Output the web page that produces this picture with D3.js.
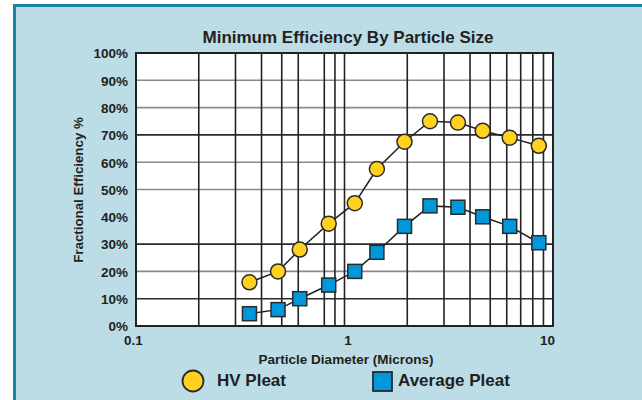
<!DOCTYPE html>
<html>
<head>
<meta charset="utf-8">
<script src="https://cdn.jsdelivr.net/npm/d3@7"></script>
<style>
  body { margin: 0; background: #fff; }
  svg text { font-family: "Liberation Sans", Arial, sans-serif; font-weight: bold; fill: #231f20; }
</style>
</head>
<body>
<script>
// particle diameters (microns) and efficiencies (%)
var sizes = [0.35, 0.48, 0.61, 0.84, 1.12, 1.43, 1.94, 2.57, 3.5, 4.6, 6.2, 8.55];
var hvPleat = [16, 20, 28, 37.5, 45, 57.5, 67.5, 75, 74.5, 71.5, 69, 66];
var avgPleat = [4.5, 6, 10, 15, 20, 27, 36.5, 44, 43.5, 40, 36.5, 30.5];

var xTicks = [0.1, 1, 10];
var yTicks = [0, 10, 20, 30, 40, 50, 60, 70, 80, 90, 100];
var xGrid = [0.2, 0.3, 0.4, 0.5, 0.6, 0.8, 0.9, 1, 2, 3, 4, 5, 6, 7, 8, 9];
var yGrid = [10, 20, 30, 50, 60, 70, 80, 90];
var yGridDark = [10, 30, 70];

var width = 642, height = 400;
var margin = {top: 53, right: 89, bottom: 74, left: 136};

var svg = d3.select("body")
  .append("svg")
    .attr("width", width)
    .attr("height", height);

// panel background with teal border
svg.append("rect")
  .attr("x", 14.5)
  .attr("y", 5.5)
  .attr("width", 700)
  .attr("height", 500)
  .style("fill", "#bcdce6")
  .style("stroke", "#1a82a3")
  .style("stroke-width", 3);

var x = d3.scaleLog()
  .domain([0.1, 10])
  .range([margin.left, width - margin.right]);

var y = d3.scaleLinear()
  .domain([0, 100])
  .range([height - margin.bottom, margin.top]);

// plot area
svg.append("rect")
  .attr("x", x(0.1))
  .attr("y", y(100))
  .attr("width", x(10) - x(0.1))
  .attr("height", y(0) - y(100))
  .style("fill", "#fff");

// horizontal grid
svg.append("g").selectAll("line")
  .data(yGrid)
  .enter()
  .append("line")
    .attr("x1", x(0.1))
    .attr("x2", x(10))
    .attr("y1", d => y(d))
    .attr("y2", d => y(d))
    .style("stroke", d => yGridDark.includes(d) ? "#2a2a2a" : "#8a8a8a")
    .style("stroke-width", 1.6);

// vertical grid
svg.append("g").selectAll("line")
  .data(xGrid)
  .enter()
  .append("line")
    .attr("x1", d => x(d))
    .attr("x2", d => x(d))
    .attr("y1", y(0))
    .attr("y2", y(100))
    .style("stroke", "#222")
    .style("stroke-width", 1.6);

// plot border
svg.append("rect")
  .attr("x", x(0.1))
  .attr("y", y(100))
  .attr("width", x(10) - x(0.1))
  .attr("height", y(0) - y(100))
  .style("fill", "none")
  .style("stroke", "#222")
  .style("stroke-width", 2);

// axes (labels only)
var yAxis = svg.append("g")
  .attr("transform", "translate(" + (x(0.1) - 5) + ",0)")
  .call(d3.axisLeft(y).tickValues(yTicks).tickSize(0).tickFormat(d => d + "%"));
yAxis.select(".domain").remove();
yAxis.selectAll("text")
  .style("font-size", "13.5px")
  .attr("dy", "0.36em");

var xAxis = svg.append("g")
  .attr("transform", "translate(0," + (y(0) + 6) + ")")
  .call(d3.axisBottom(x).tickValues(xTicks).tickSize(0).tickFormat(d3.format("")));
xAxis.select(".domain").remove();
xAxis.selectAll("text")
  .style("font-size", "13.5px")
  .attr("dx", d => d === 0.1 ? -3 : d === 10 ? -6 : 3);

// title + axis titles
svg.append("text")
  .attr("x", 348)
  .attr("y", 43)
  .attr("text-anchor", "middle")
  .style("font-size", "17px")
  .text("Minimum Efficiency By Particle Size");

svg.append("text")
  .attr("x", 346)
  .attr("y", 364)
  .attr("text-anchor", "middle")
  .style("font-size", "13.5px")
  .text("Particle Diameter (Microns)");

svg.append("text")
  .attr("transform", "translate(83,190) rotate(-90)")
  .attr("text-anchor", "middle")
  .style("font-size", "13.3px")
  .text("Fractional Efficiency %");

// series lines
var line = d3.line()
  .x((d, i) => x(sizes[i]))
  .y(d => y(d));

svg.append("path")
  .datum(hvPleat)
  .attr("d", line)
  .style("fill", "none")
  .style("stroke", "#222")
  .style("stroke-width", 1.5);

svg.append("path")
  .datum(avgPleat)
  .attr("d", line)
  .style("fill", "none")
  .style("stroke", "#222")
  .style("stroke-width", 1.5);

// markers
svg.append("g").selectAll("circle")
  .data(hvPleat)
  .enter()
  .append("circle")
    .attr("cx", (d, i) => x(sizes[i]))
    .attr("cy", d => y(d))
    .attr("r", 7.5)
    .style("fill", "#ffd21f")
    .style("stroke", "#2a2a2a")
    .style("stroke-width", 1.5);

var sq = 14;
svg.append("g").selectAll("rect")
  .data(avgPleat)
  .enter()
  .append("rect")
    .attr("x", (d, i) => x(sizes[i]) - sq / 2)
    .attr("y", d => y(d) - sq / 2)
    .attr("width", sq)
    .attr("height", sq)
    .style("fill", "#0098da")
    .style("stroke", "#2a2a2a")
    .style("stroke-width", 1.5);

// legend
svg.append("circle")
  .attr("cx", 193)
  .attr("cy", 381)
  .attr("r", 10.5)
  .style("fill", "#ffd21f")
  .style("stroke", "#2a2a2a")
  .style("stroke-width", 1.8);

svg.append("text")
  .attr("x", 217)
  .attr("y", 386)
  .style("font-size", "17px")
  .text("HV Pleat");

svg.append("rect")
  .attr("x", 373)
  .attr("y", 372)
  .attr("width", 19)
  .attr("height", 19)
  .style("fill", "#0098da")
  .style("stroke", "#2a2a2a")
  .style("stroke-width", 1.8);

svg.append("text")
  .attr("x", 398)
  .attr("y", 386)
  .style("font-size", "17px")
  .text("Average Pleat");
</script>
</body>
</html>
